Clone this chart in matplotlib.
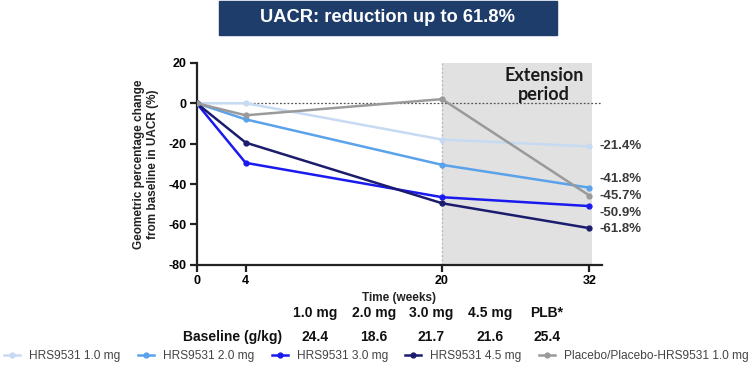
import matplotlib
matplotlib.use("Agg")
import matplotlib.pyplot as plt
from matplotlib.patches import Rectangle

plt.rcParams["font.family"] = ["Liberation Sans", "DejaVu Sans"]
plt.rcParams["axes.unicode_minus"] = False

# data
weeks = [0, 4, 20, 32]
hrs_10 = [0, 0, -18.0, -21.4]
hrs_20 = [0, -8.0, -30.5, -41.8]
hrs_30 = [0, -29.5, -46.5, -50.9]
hrs_45 = [0, -19.5, -49.5, -61.8]
placebo = [0, -6.0, 2.0, -45.7]

series_names = ["HRS9531 1.0 mg", "HRS9531 2.0 mg", "HRS9531 3.0 mg",
                "HRS9531 4.5 mg", "Placebo/Placebo-HRS9531 1.0 mg"]
dose_labels = ["1.0 mg", "2.0 mg", "3.0 mg", "4.5 mg", "PLB*"]
baseline_uacr = ["24.4", "18.6", "21.7", "21.6", "25.4"]

colors = ["#c6daf2", "#5aa2ea", "#1a1aee", "#1c1c6e", "#9a9a9a"]

fig = plt.figure(figsize=(7.53, 3.69), dpi=100)
ax = fig.add_axes([0.261, 0.282, 0.538, 0.548])

ax.axvspan(20, 32.2, color="#e1e1e1", zorder=0, lw=0)
ax.axvline(20, color="#bbbbbb", ls=(0, (1.5, 1.5)), lw=1.0, zorder=1)
ax.axhline(0, color="#555555", ls=(0, (1.5, 1.5)), lw=0.9, zorder=1)

all_series = [hrs_10, hrs_20, hrs_30, hrs_45, placebo]
for vals, name, c in zip(all_series, series_names, colors):
    ax.plot(weeks, vals, color=c, lw=1.8, marker="o", ms=3.5,
            label=name, zorder=3)

# end-of-study labels on the right (spread out so they don't overlap)
label_y = [-21.4, -37.6, -54.1, -62.2, -45.7]
for vals, y in zip(all_series, label_y):
    ax.text(32.8, y, f"{vals[-1]:.1f}%", fontsize=9.5, fontweight="bold",
            color="#3a3a3a", va="center", ha="left", clip_on=False)

ax.text(28.3, 9, "Extension\nperiod", fontsize=13, fontweight="bold",
        family=["Lato", "DejaVu Sans"], ha="center", va="center",
        linespacing=1.15, color="#1a1a1a")

ax.set_xlim(0, 33.0)
ax.set_ylim(-80, 20)
ax.set_xticks(weeks)
ax.set_yticks(range(-80, 21, 20))
for s in ["top", "right"]:
    ax.spines[s].set_visible(False)
for s in ["left", "bottom"]:
    ax.spines[s].set_linewidth(1.6)
    ax.spines[s].set_color("#222222")
ax.tick_params(width=1.6, length=5, labelsize=9, color="#222222", pad=2)
for lab in ax.get_xticklabels() + ax.get_yticklabels():
    lab.set_fontweight("bold")

ax.set_ylabel("Geometric percentage change\nfrom baseline in UACR (%)",
              fontsize=8.5, fontweight="bold", labelpad=7, color="#222222")
ax.set_xlabel("Time (weeks)", fontsize=8.5, fontweight="bold",
              labelpad=4, color="#222222")

# title banner
fig.patches.append(Rectangle((219 / 753, 1 - 35 / 369), 338 / 753, 34 / 369,
                             transform=fig.transFigure, color="#1e3d6b",
                             zorder=0))
fig.text(388 / 753, 1 - 18 / 369, "UACR: reduction up to 61.8%",
         color="white", fontsize=13.2, fontweight="bold",
         ha="center", va="center")

# baseline table
col_x = [315, 374, 431, 490, 547]
for x, d, b in zip(col_x, dose_labels, baseline_uacr):
    fig.text(x / 753, 1 - 313 / 369, d, fontsize=10, fontweight="bold",
             ha="center", va="center", color="#111111")
    fig.text(x / 753, 1 - 337 / 369, b, fontsize=10, fontweight="bold",
             ha="center", va="center", color="#111111")
fig.text(233 / 753, 1 - 337 / 369, "Baseline (g/kg)", fontsize=10,
         fontweight="bold", ha="center", va="center", color="#111111")

handles, labels = ax.get_legend_handles_labels()
fig.legend(handles, labels, loc="center", bbox_to_anchor=(0.5, 1 - 356 / 369),
           ncol=5, frameon=False, fontsize=8.6, handlelength=1.35,
           columnspacing=1.45, handletextpad=0.75, labelcolor="#444444",
           borderaxespad=0, borderpad=0)

fig.savefig("out.png", dpi=100)
